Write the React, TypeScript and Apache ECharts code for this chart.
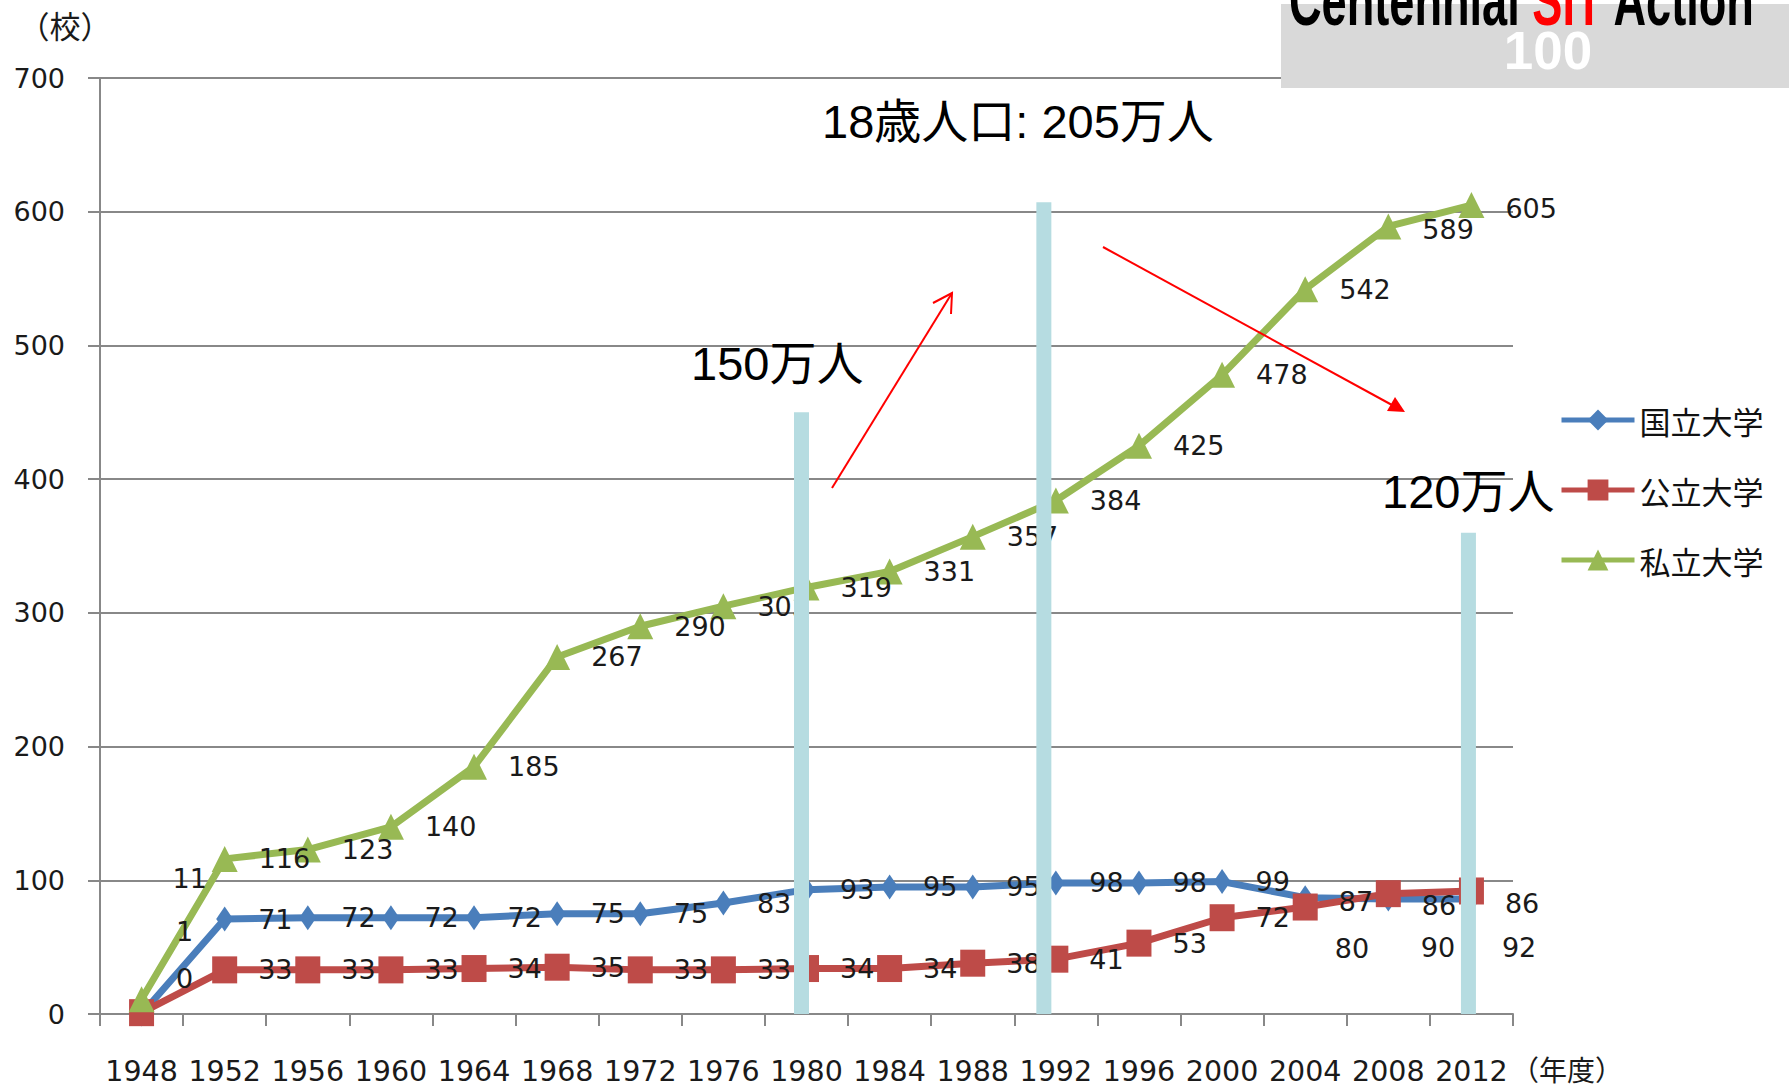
import React, { useEffect, useRef } from "react";
import * as echarts from "echarts";

const years = ["1948", "1952", "1956", "1960", "1964", "1968", "1972", "1976", "1980", "1984", "1988", "1992", "1996", "2000", "2004", "2008", "2012"];
const national = [0, 71, 72, 72, 72, 75, 75, 83, 93, 95, 95, 98, 98, 99, 87, 86, 86];
const publicU = [1, 33, 33, 33, 34, 35, 33, 33, 34, 34, 38, 41, 53, 72, 80, 90, 92];
const privateU = [11, 116, 123, 140, 185, 267, 290, 305, 319, 331, 357, 384, 425, 478, 542, 589, 605];
const seriesNames = ["国立大学", "公立大学", "私立大学"];
const popYears = ["1980", "1992", "2012"];
const popBarTop = [450, 607, 360];
const yTicks = [0, 100, 200, 300, 400, 500, 600, 700];

// label nudges (style only)
const labelNudge: Record<string, Record<number, [number, number]>> = {
  national: { 0: [1, -36], 14: [0, 4], 15: [0, 6], 16: [0, 4] },
  public: { 0: [1, -81], 14: [-4, 41], 15: [-1, 54], 16: [-3, 57] },
  private: { 0: [-3, -121], 15: [0, 3], 16: [0, 3] },
};
const barNudge = [-5, -12, -3];

const NUM_FONT = "'DejaVu Sans'";
const CJK_FONT = "'Noto Sans CJK JP'";
const ANN_FONT = "'Liberation Sans', 'Noto Sans CJK JP'";

function withNudge(values: number[], key: string) {
  const nudges = labelNudge[key] || {};
  return values.map((v, i) =>
    nudges[i] ? { value: v, label: { offset: nudges[i] } } : v
  );
}

export default function App() {
  const ref = useRef<HTMLDivElement>(null);
  useEffect(() => {
    if (!ref.current) return;
    const chart = echarts.init(ref.current, undefined, { renderer: "svg" });
    const labelBase = {
      show: true,
      position: "right",
      color: "#1a1a1a",
      fontFamily: NUM_FONT,
      fontSize: 27,
    };
    const popData = popYears.map((y, i) => [years.indexOf(y), popBarTop[i], barNudge[i]]);
    const option: any = {
      animation: false,
      backgroundColor: "#ffffff",
      grid: { left: 100, right: 276, top: 78, bottom: 73, containLabel: false },
      legend: {
        data: seriesNames,
        orient: "vertical",
        left: 1559,
        top: 402,
        padding: 0,
        itemWidth: 73,
        itemHeight: 26,
        itemGap: 34,
        lineStyle: { width: 5 },
        textStyle: { fontFamily: CJK_FONT, fontSize: 31, color: "#111", lineHeight: 36 },
        selectedMode: false,
      },
      xAxis: {
        type: "category",
        data: years,
        boundaryGap: true,
        axisLine: { lineStyle: { color: "#888888", width: 2 } },
        axisTick: { show: true, interval: 0, length: 12, lineStyle: { color: "#888888", width: 2 } },
        axisLabel: { interval: 0, margin: 43, fontFamily: NUM_FONT, fontSize: 28.5, color: "#1a1a1a", lineHeight: 29 },
        splitLine: { show: false },
      },
      yAxis: {
        type: "value",
        min: 0,
        max: 700,
        interval: 100,
        axisLine: { show: true, lineStyle: { color: "#888888", width: 2 } },
        axisTick: { show: true, length: 12, lineStyle: { color: "#888888", width: 2 } },
        axisLabel: {
          margin: 35,
          fontFamily: NUM_FONT,
          fontSize: 27,
          color: "#1a1a1a",
          formatter: (v: number) => (yTicks.indexOf(v) >= 0 ? String(v) : ""),
        },
        splitLine: { show: true, lineStyle: { color: "#888888", width: 2 } },
      },
      series: [
        {
          name: seriesNames[0],
          type: "line",
          data: withNudge(national, "national"),
          z: 2,
          symbol: "diamond",
          symbolSize: [17, 25],
          lineStyle: { color: "#4a7ebb", width: 7 },
          itemStyle: { color: "#4a7ebb" },
          label: { ...labelBase, distance: 25 },
        },
        {
          name: seriesNames[1],
          type: "line",
          data: withNudge(publicU, "public"),
          z: 2,
          symbol: "rect",
          symbolSize: [25, 27],
          lineStyle: { color: "#be4b48", width: 7 },
          itemStyle: { color: "#be4b48" },
          label: { ...labelBase, distance: 21 },
        },
        {
          name: seriesNames[2],
          type: "line",
          data: withNudge(privateU, "private"),
          z: 2,
          symbol: "triangle",
          symbolSize: 26,
          lineStyle: { color: "#98b954", width: 7 },
          itemStyle: { color: "#98b954" },
          label: { ...labelBase, distance: 21 },
        },
        {
          name: "18歳人口",
          type: "custom",
          z: 5,
          data: popData,
          renderItem: (params: any, api: any) => {
            const idx = api.value(0);
            const v = api.value(1);
            const shift = api.value(2);
            const top = api.coord([idx, v]);
            const bottom = api.coord([idx, 0]);
            const w = 15;
            return {
              type: "rect",
              shape: { x: top[0] - w / 2 + shift, y: top[1], width: w, height: bottom[1] - top[1] },
              style: { fill: "#b6dce1" },
            };
          },
        },
      ],
      graphic: [
        {
          type: "text",
          x: 65,
          y: 24,
          style: { text: "（校）", fontFamily: CJK_FONT, fontSize: 31, fill: "#1a1a1a", align: "center", verticalAlign: "middle" },
        },
        {
          type: "text",
          x: 1511,
          y: 1069,
          style: { text: "（年度）", fontFamily: CJK_FONT, fontSize: 28, fill: "#1a1a1a", align: "left", verticalAlign: "middle" },
        },
        {
          type: "text",
          x: 691,
          y: 363,
          z: 10,
          style: { text: "150万人", fontFamily: ANN_FONT, fontSize: 47, fill: "#000", align: "left", verticalAlign: "middle" },
        },
        {
          type: "text",
          x: 822,
          y: 121,
          z: 10,
          style: { text: "18歳人口: 205万人", fontFamily: ANN_FONT, fontSize: 47, fill: "#000", align: "left", verticalAlign: "middle" },
        },
        {
          type: "text",
          x: 1382,
          y: 491,
          z: 10,
          style: { text: "120万人", fontFamily: ANN_FONT, fontSize: 47, fill: "#000", align: "left", verticalAlign: "middle" },
        },
        {
          type: "line",
          z: 10,
          shape: { x1: 832, y1: 488, x2: 952, y2: 293 },
          style: { stroke: "#ff0000", lineWidth: 2 },
        },
        {
          type: "polyline",
          z: 10,
          shape: { points: [[933, 303], [952, 293], [951, 314]] },
          style: { stroke: "#ff0000", lineWidth: 2, fill: null },
        },
        {
          type: "line",
          z: 10,
          shape: { x1: 1103, y1: 247, x2: 1392, y2: 405 },
          style: { stroke: "#ff0000", lineWidth: 2 },
        },
        {
          type: "polygon",
          z: 10,
          shape: { points: [[1405, 412], [1387, 411], [1395, 397]] },
          style: { fill: "#ff0000" },
        },
        {
          type: "rect",
          z: 20,
          shape: { x: 1281, y: 4, width: 508, height: 84 },
          style: { fill: "#d9d9d9" },
        },
        {
          type: "text",
          z: 21,
          x: 1289,
          y: 1,
          scaleX: 0.645,
          style: {
            text: "{a|Centennial }{b|SIT}{a| Action}",
            align: "left",
            verticalAlign: "middle",
            rich: {
              a: { fill: "#000", fontFamily: "'Liberation Sans'", fontWeight: "bold", fontSize: 70 },
              b: { fill: "#ff0000", fontFamily: "'Liberation Sans'", fontWeight: "bold", fontSize: 70 },
            },
          },
        },
        {
          type: "text",
          z: 21,
          x: 1548,
          y: 50,
          style: { text: "100", fontFamily: "'Liberation Sans'", fontWeight: "bold", fontSize: 53, fill: "#ffffff", align: "center", verticalAlign: "middle" },
        },
      ],
    };
    chart.setOption(option);
    return () => chart.dispose();
  }, []);
  return (
    <div
      ref={ref}
      style={{ position: "fixed", left: 0, top: 0, width: 1789, height: 1087, background: "#fff" }}
    />
  );
}
